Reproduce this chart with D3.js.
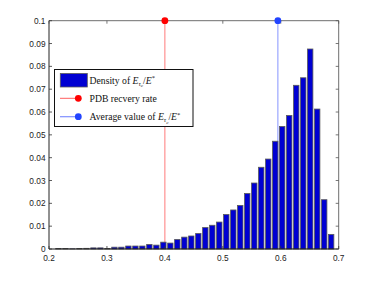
<!DOCTYPE html>
<html><head><meta charset="utf-8">
<script src="https://cdn.jsdelivr.net/npm/d3@7"></script>
<style>body{margin:0;background:#fff}svg{display:block}</style>
</head><body>
<svg id="c" width="374" height="281"></svg>
<script>
const binCenters = [0.2163,0.2284,0.2404,0.2525,0.2646,0.2767,0.2887,0.3008,0.3129,0.3249,
  0.3370,0.3491,0.3611,0.3732,0.3853,0.3974,0.4094,0.4215,0.4336,0.4456,
  0.4577,0.4698,0.4818,0.4939,0.5060,0.5181,0.5301,0.5422,0.5543,0.5663,
  0.5784,0.5905,0.6025,0.6146,0.6267,0.6388,0.6508,0.6629,0.6750,0.6870];
const density = [0.0002,0.0002,0.0001,0.0002,0.0003,0.0005,0.0005,0.0002,0.0008,0.0008,
  0.0013,0.0013,0.0013,0.0020,0.0017,0.0030,0.0026,0.0042,0.0052,0.0057,
  0.0068,0.0094,0.0104,0.0118,0.0151,0.0171,0.0191,0.0243,0.0289,0.0358,
  0.0394,0.0472,0.0537,0.0585,0.0717,0.0750,0.0876,0.0613,0.0216,0.0064];
const binWidth = 0.0107;
const pdbRate = 0.4;
const avgValue = 0.595;
const markerY = 0.1;
const xTicks = [0.2,0.3,0.4,0.5,0.6,0.7];
const yTicks = [0,0.01,0.02,0.03,0.04,0.05,0.06,0.07,0.08,0.09,0.1];

const svg = d3.select("#c");
const L=49, R=338.7, T=20.7, B=249;
const x = d3.scaleLinear().domain([0.2,0.7]).range([L,R]);
const y = d3.scaleLinear().domain([0,0.1]).range([B,T]);

// vertical reference lines (behind bars)
svg.append("line").attr("x1",x(pdbRate)).attr("x2",x(pdbRate)).attr("y1",y(markerY)).attr("y2",y(0))
  .attr("stroke","#ff7a7a").attr("stroke-width",1);
svg.append("line").attr("x1",x(avgValue)).attr("x2",x(avgValue)).attr("y1",y(markerY)).attr("y2",y(0))
  .attr("stroke","#9aa6ff").attr("stroke-width",1.2);

// bars
svg.append("g").selectAll("rect").data(binCenters).join("rect")
  .attr("x",(d)=>x(d-binWidth/2)+0.4)
  .attr("width",(d)=>x(d+binWidth/2)-x(d-binWidth/2)-0.8)
  .attr("y",(d,i)=>y(density[i]))
  .attr("height",(d,i)=>y(0)-y(density[i]))
  .attr("fill","#0000d2").attr("stroke","#5a5a5a").attr("stroke-width",0.8);

// axes box
const ax = svg.append("g");
ax.append("line").attr("x1",L).attr("x2",R).attr("y1",T).attr("y2",T).attr("stroke","#6e6e6e").attr("stroke-width",1);
ax.append("line").attr("x1",R).attr("x2",R).attr("y1",T).attr("y2",B).attr("stroke","#6e6e6e").attr("stroke-width",1);
ax.append("line").attr("x1",L).attr("x2",L).attr("y1",T).attr("y2",B).attr("stroke","#222").attr("stroke-width",1);
ax.append("line").attr("x1",L).attr("x2",R).attr("y1",B).attr("y2",B).attr("stroke","#111").attr("stroke-width",1);

// ticks
const tl = 3;
xTicks.forEach(t=>{
  ax.append("line").attr("x1",x(t)).attr("x2",x(t)).attr("y1",B).attr("y2",B-tl).attr("stroke","#333").attr("stroke-width",0.8);
  ax.append("line").attr("x1",x(t)).attr("x2",x(t)).attr("y1",T).attr("y2",T+tl).attr("stroke","#555").attr("stroke-width",0.8);
  ax.append("text").attr("x",x(t)).attr("y",B+11.5).attr("text-anchor","middle")
    .attr("font-family","Liberation Sans, Arial, sans-serif").attr("font-size",8.3).attr("fill","#222").text(d3.format("")(t));
});
yTicks.forEach(t=>{
  ax.append("line").attr("x1",L).attr("x2",L+tl).attr("y1",y(t)).attr("y2",y(t)).attr("stroke","#333").attr("stroke-width",0.8);
  ax.append("line").attr("x1",R).attr("x2",R-tl).attr("y1",y(t)).attr("y2",y(t)).attr("stroke","#555").attr("stroke-width",0.8);
  ax.append("text").attr("x",L-3.5).attr("y",y(t)+3).attr("text-anchor","end")
    .attr("font-family","Liberation Sans, Arial, sans-serif").attr("font-size",8.3).attr("fill","#222").text(d3.format("")(t));
});

// markers
svg.append("circle").attr("cx",x(pdbRate)).attr("cy",y(markerY)).attr("r",3.4).attr("fill","#ff0000");
svg.append("circle").attr("cx",x(avgValue)).attr("cy",y(markerY)).attr("r",3.4).attr("fill","#2244ff");

// legend
const lg = svg.append("g");
lg.append("rect").attr("x",54.5).attr("y",69.5).attr("width",138.5).attr("height",57)
  .attr("fill","#fff").attr("stroke","#111").attr("stroke-width",1);
lg.append("rect").attr("x",60.3).attr("y",73.5).attr("width",27).attr("height",13.5)
  .attr("fill","#0000d2").attr("stroke","#5a5a5a").attr("stroke-width",0.8);
lg.append("line").attr("x1",60).attr("x2",78).attr("y1",98.3).attr("y2",98.3).attr("stroke","#ff6060").attr("stroke-width",1);
lg.append("circle").attr("cx",78.3).attr("cy",98.3).attr("r",3.4).attr("fill","#ff0000");
lg.append("line").attr("x1",60).attr("x2",78).attr("y1",116.7).attr("y2",116.7).attr("stroke","#8090ff").attr("stroke-width",1.2);
lg.append("circle").attr("cx",78.3).attr("cy",116.7).attr("r",3.4).attr("fill","#2244ff");

const ff = "Liberation Serif, Times New Roman, serif";
function ratioText(sel, prefix){
  sel.append("tspan").text(prefix);
  sel.append("tspan").attr("font-style","italic").text("E");
  sel.append("tspan").attr("font-style","italic").attr("font-size",6.5).attr("dy",2.2).text("τ");
  sel.append("tspan").attr("font-style","italic").attr("font-size",5).attr("dy",1.3).text("c");
  sel.append("tspan").attr("dy",-3.5).text("/");
  sel.append("tspan").attr("font-style","italic").text("E");
  sel.append("tspan").attr("font-size",6.5).attr("dy",-3.3).text("*");
}
const fs = 9.7;
const t1 = lg.append("text").attr("x",89.5).attr("y",83.5).attr("font-family",ff).attr("font-size",fs).attr("fill","#111");
ratioText(t1,"Density of ");
lg.append("text").attr("x",89.5).attr("y",101.6).attr("font-family",ff).attr("font-size",fs).attr("fill","#111").text("PDB recvery rate");
const t3 = lg.append("text").attr("x",89.5).attr("y",120).attr("font-family",ff).attr("font-size",fs).attr("fill","#111");
ratioText(t3,"Average value of ");
</script>
</body></html>
